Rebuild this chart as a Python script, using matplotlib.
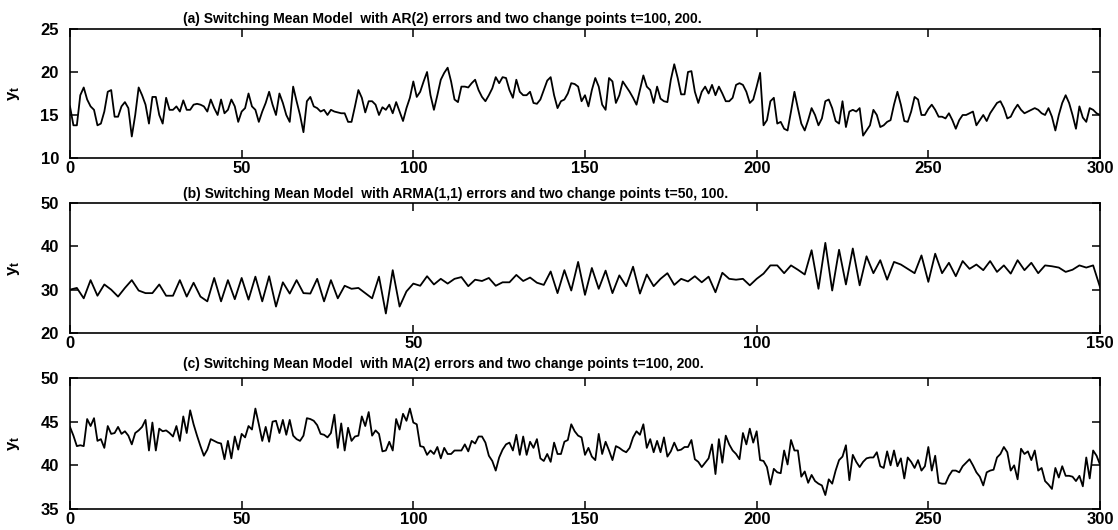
"""
Switching mean model simulations: three panels of y_t
"""

# %%

import numpy as np
import matplotlib.pyplot as plt

plt.rcParams['font.family'] = ['Liberation Sans', 'DejaVu Sans']
plt.rcParams['mathtext.default'] = 'regular'
plt.rcParams['axes.linewidth'] = 1.2

# %%

# (a) AR(2) errors, change points t=100, 200
ar2_series = [
    16.0, 13.8, 13.8, 17.3, 18.2, 16.8, 16.0, 15.6, 13.8, 14.0, 15.4, 17.7, 17.9, 14.8, 14.8,
    16.0, 16.5, 15.8, 12.5, 15.0, 18.2, 17.3, 16.2, 14.0, 17.1, 17.1, 15.0, 14.0, 17.0, 15.6,
    15.6, 16.0, 15.4, 16.7, 15.6, 15.6, 16.2, 16.3, 16.2, 16.0, 15.4, 16.8, 15.8, 15.0, 16.8,
    15.2, 15.6, 16.8, 16.0, 14.2, 15.4, 15.8, 17.5, 16.0, 15.6, 14.2, 15.4, 16.4, 17.7, 16.2,
    15.0, 17.5, 16.4, 15.0, 14.2, 18.3, 16.6, 15.0, 13.0, 16.6, 17.1, 16.0, 15.8, 15.4, 15.6,
    15.0, 15.6, 15.4, 15.3, 15.2, 15.2, 14.2, 14.2, 16.0, 17.9, 17.0, 15.3, 16.6, 16.6, 16.2,
    15.0, 15.9, 15.6, 16.2, 15.2, 16.5, 15.4, 14.3, 15.8, 17.0, 18.9, 17.1, 17.7, 18.9, 20.0,
    17.3, 15.6, 17.3, 19.1, 19.9, 20.5, 18.9, 16.8, 16.5, 18.3, 18.3, 18.2, 18.7, 19.1, 17.9,
    17.1, 16.6, 17.3, 18.1, 19.4, 18.7, 19.4, 19.3, 17.9, 17.0, 19.1, 17.7, 17.3, 17.3, 17.7,
    16.4, 16.3, 16.8, 17.9, 19.0, 19.4, 17.3, 15.8, 16.6, 16.8, 17.5, 18.7, 18.6, 18.3, 16.6,
    17.3, 16.0, 17.9, 19.3, 18.3, 16.2, 15.6, 19.3, 18.9, 16.4, 17.3, 18.9, 18.3, 17.7, 17.0,
    16.2, 17.9, 19.6, 18.3, 17.9, 16.4, 18.3, 16.9, 16.6, 16.5, 19.1, 20.9, 19.3, 17.4, 17.4,
    20.0, 20.1, 17.7, 16.4, 17.7, 18.3, 17.5, 18.5, 17.3, 18.3, 17.5, 16.6, 16.6, 17.0, 18.5,
    18.7, 18.5, 17.7, 16.4, 16.8, 18.3, 19.9, 13.8, 14.4, 16.6, 17.0, 14.0, 14.2, 13.4, 13.2,
    15.4, 17.7, 15.8, 14.0, 13.2, 14.4, 15.8, 15.0, 13.8, 14.6, 16.6, 16.8, 15.8, 14.3, 14.0,
    16.6, 13.6, 15.4, 15.6, 15.4, 15.8, 12.6, 13.2, 13.8, 15.6, 15.0, 13.6, 13.8, 14.2, 14.4,
    16.2, 17.7, 16.2, 14.3, 14.2, 15.4, 17.1, 16.8, 15.0, 15.0, 15.7, 16.2, 15.6, 14.8, 14.8,
    14.6, 15.2, 14.4, 13.4, 14.4, 15.0, 15.0, 15.2, 15.4, 13.8, 14.4, 15.0, 14.3, 15.2, 15.8,
    16.4, 16.6, 15.8, 14.6, 14.8, 15.6, 16.2, 15.6, 15.2, 15.4, 15.6, 15.8, 15.6, 15.2, 15.0,
    15.8, 14.8, 13.2, 15.0, 16.4, 17.3, 16.4, 15.0, 13.4, 16.0, 14.7, 14.2, 15.8, 15.6, 15.2,
    15.0,
]

# (b) ARMA(1,1) errors, change points t=50, 100
arma_series = [
    30.0, 30.4, 28.0, 32.2, 28.6, 31.2, 30.0, 28.4, 30.4, 32.2, 29.8, 29.2, 29.2, 31.2, 28.6,
    28.6, 32.2, 28.4, 31.6, 28.4, 27.3, 32.7, 27.3, 32.2, 27.8, 32.7, 27.7, 33.0, 27.3, 33.1,
    26.1, 31.7, 29.1, 32.2, 29.2, 29.1, 32.5, 27.3, 32.2, 28.0, 30.9, 30.2, 30.4, 29.2, 28.0,
    33.0, 24.5, 34.5, 26.1, 29.6, 31.4, 30.9, 33.1, 31.2, 32.5, 31.4, 32.5, 32.9, 30.8, 32.3,
    32.0, 32.7, 30.9, 31.7, 31.7, 33.4, 32.0, 32.8, 31.6, 31.1, 34.2, 29.2, 34.5, 29.8, 36.4,
    28.8, 35.0, 30.2, 34.4, 29.2, 33.3, 30.8, 35.3, 29.1, 33.5, 30.8, 32.5, 33.8, 31.1, 32.5,
    31.9, 33.1, 31.7, 33.0, 29.4, 33.9, 32.5, 32.3, 32.5, 31.0, 32.5, 33.7, 35.6, 35.6, 33.8,
    35.6, 34.6, 33.5, 39.1, 30.2, 40.8, 29.8, 39.2, 31.2, 39.5, 31.0, 37.7, 33.8, 36.8, 32.3,
    36.4, 35.8, 34.8, 33.8, 37.9, 31.8, 38.3, 33.8, 36.2, 33.1, 36.6, 34.8, 35.8, 34.5, 36.6,
    34.1, 35.6, 33.7, 36.8, 34.5, 36.2, 33.8, 35.6, 35.4, 35.1, 34.1, 34.6, 35.6, 35.1, 35.6,
    30.6,
]

# (c) MA(2) errors, change points t=100, 200
ma2_series = [
    44.4, 43.4, 42.2, 42.3, 42.2, 45.3, 44.5, 45.4, 42.8, 43.0, 42.0, 44.5, 43.6, 43.7, 44.4,
    43.6, 43.9, 43.4, 42.4, 43.7, 44.0, 44.4, 45.2, 41.7, 44.9, 41.7, 44.2, 43.9, 44.0, 43.7,
    43.3, 44.5, 42.8, 45.6, 43.7, 46.3, 44.7, 43.4, 42.2, 41.1, 41.8, 43.0, 42.8, 42.6, 42.5,
    40.7, 42.8, 40.8, 43.3, 41.8, 43.6, 43.2, 44.5, 44.1, 46.5, 44.7, 42.8, 44.4, 42.7, 45.0,
    45.1, 43.7, 45.2, 43.5, 45.2, 43.4, 43.0, 42.8, 43.4, 45.4, 45.3, 45.1, 44.6, 43.6, 43.5,
    43.2, 43.7, 45.8, 42.0, 44.8, 41.7, 44.3, 42.8, 43.3, 43.4, 45.6, 44.5, 46.1, 43.4, 44.0,
    43.6, 41.6, 41.7, 42.7, 41.7, 45.3, 44.1, 45.9, 45.1, 46.5, 44.9, 44.7, 42.2, 42.1, 41.2,
    41.7, 41.3, 42.1, 40.8, 42.0, 41.3, 41.3, 41.7, 41.7, 41.7, 42.4, 41.6, 42.8, 42.5, 43.3,
    43.3, 42.6, 41.1, 40.5, 39.4, 40.9, 41.8, 42.4, 42.6, 41.7, 43.5, 41.2, 43.3, 41.2, 42.7,
    42.0, 43.0, 40.8, 40.5, 41.3, 40.4, 42.6, 41.3, 41.3, 42.7, 42.9, 44.7, 43.9, 43.4, 43.2,
    41.2, 42.0, 41.0, 40.6, 43.6, 41.3, 42.7, 41.7, 40.6, 42.2, 42.0, 41.7, 41.5, 42.0, 43.2,
    43.9, 43.5, 44.7, 42.0, 43.0, 41.5, 42.8, 41.5, 43.2, 41.0, 41.6, 42.6, 41.7, 41.8, 42.1,
    42.1, 42.9, 40.7, 40.4, 39.8, 40.3, 40.8, 42.4, 39.0, 43.0, 40.3, 43.4, 42.4, 41.7, 41.3,
    40.7, 43.7, 42.4, 44.2, 42.6, 43.9, 40.6, 40.5, 39.8, 37.8, 39.6, 39.2, 39.1, 41.7, 40.1,
    42.9, 41.7, 41.7, 38.7, 39.3, 38.0, 38.9, 38.2, 37.9, 37.7, 36.6, 38.4, 37.9, 39.4, 40.6,
    41.0, 42.3, 38.3, 41.2, 40.4, 39.8, 40.4, 40.8, 40.9, 40.9, 41.5, 39.9, 39.7, 41.6, 40.0,
    41.7, 39.9, 40.8, 38.5, 40.9, 40.4, 39.7, 40.6, 39.4, 39.9, 42.1, 39.4, 41.1, 38.0, 37.9,
    37.9, 38.8, 39.4, 39.4, 39.2, 39.9, 40.3, 40.7, 40.0, 39.2, 38.7, 37.7, 39.2, 39.4, 39.5,
    40.9, 41.3, 42.1, 41.5, 39.4, 40.0, 38.4, 41.9, 41.3, 41.6, 40.6, 41.7, 39.4, 39.7, 38.2,
    37.8, 37.3, 39.7, 38.6, 39.9, 38.8, 38.8, 38.7, 38.2, 38.8, 37.6, 40.9, 38.5, 41.7, 41.1,
    40.1,
]

titles = [
    '(a) Switching Mean Model  with AR(2) errors and two change points t=100, 200.',
    '(b) Switching Mean Model  with ARMA(1,1) errors and two change points t=50, 100.',
    '(c) Switching Mean Model  with MA(2) errors and two change points t=100, 200.',
]
x_ticks = [
    [0, 50, 100, 150, 200, 250, 300],
    [0, 50, 100, 150],
    [0, 50, 100, 150, 200, 250, 300],
]
y_ticks = [
    [10, 15, 20, 25],
    [20, 30, 40, 50],
    [35, 40, 45, 50],
]

# %%


def setup_panel(ax, xt, yt, title, title_gap):
    """box with inward ticks on all sides, bold tick labels, title on the left"""
    ax.set_xlim(xt[0], xt[-1])
    ax.set_ylim(yt[0], yt[-1])
    ax.set_xticks(xt)
    ax.set_yticks(yt)
    ax.tick_params(direction='in', top=True, right=True, length=6, width=1.1,
                   labelsize=12)
    ax.tick_params(axis='y', pad=8)
    ax.tick_params(axis='x', pad=2)
    for lab in ax.get_xticklabels() + ax.get_yticklabels():
        lab.set_fontweight('bold')
    ax.set_ylabel(r'$y_t$', fontsize=12, fontweight='bold', rotation=90)
    ax.yaxis.set_label_coords(-0.047, 0.5)
    ax.text(0.11, 1.0 + title_gap, title, transform=ax.transAxes,
            fontsize=10, fontweight='bold', va='baseline', ha='left')


# %%

fig = plt.figure(figsize=(11.18, 5.30), dpi=100)
boxes = [
    [0.0626, 0.7019, 0.9213, 0.2434],
    [0.0626, 0.3717, 0.9213, 0.2453],
    [0.0626, 0.0396, 0.9213, 0.2472],
]
gaps = [0.05, 0.04, 0.08]
series = [ar2_series, arma_series, ma2_series]

for box, y, xt, yt, title, gap in zip(boxes, series, x_ticks, y_ticks, titles, gaps):
    ax = fig.add_axes(box)
    t = np.arange(len(y))
    ax.plot(t, y, color='k', linewidth=1.3)
    setup_panel(ax, xt, yt, title, gap)

fig.savefig('out.png', dpi=100)
